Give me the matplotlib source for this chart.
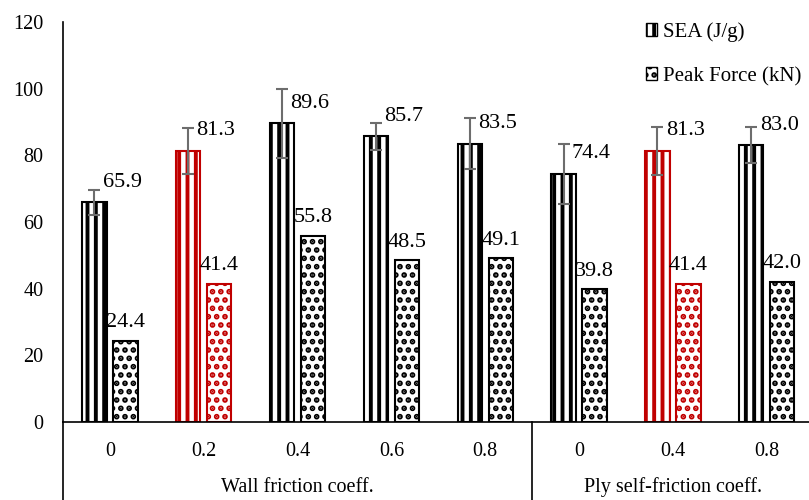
import matplotlib
matplotlib.use("Agg")
import matplotlib.pyplot as plt
import matplotlib.transforms as mtransforms
from matplotlib.patches import Patch
import numpy as np

plt.rcParams['font.family'] = ['Liberation Serif', 'DejaVu Serif']
plt.rcParams['hatch.linewidth'] = 2.8

# data
tick_labels = ["0", "0.2", "0.4", "0.6", "0.8", "0", "0.4", "0.8"]
groups = ["Wall friction coeff.", "Ply self-friction coeff."]
group_spans = [(0, 4), (5, 7)]
sea = [65.9, 81.3, 89.6, 85.7, 83.5, 74.4, 81.3, 83.0]
sea_err = [3.7, 7.0, 10.3, 4.0, 7.6, 8.9, 7.1, 5.4]
peak = [24.4, 41.4, 55.8, 48.5, 49.1, 39.8, 41.4, 42.0]
highlight = [1, 6]

fig = plt.figure(figsize=(8.09, 5.0), dpi=100)
ax = fig.add_axes([63 / 809, 78 / 500, 746 / 809, 400 / 500])

x = np.arange(len(tick_labels))
w = 0.26
off = 0.165
cols = ['#C00000' if i in highlight else 'black' for i in x]

for i in x:
    ax.bar(x[i] - off, sea[i], w, color='white', edgecolor=cols[i], hatch='||', linewidth=1.5)
    ax.bar(x[i] + off, peak[i], w, color='white', edgecolor=cols[i], hatch='..', linewidth=1.5)

ax.errorbar(x - off, sea, yerr=sea_err, fmt='none', ecolor='#6d6d6d', elinewidth=1.5,
            capsize=4, capthick=1.5)

for i in x:
    ax.annotate(f"{sea[i]:.1f}", (x[i] - off, sea[i]), xytext=(20, 14.5), textcoords='offset points',
                ha='center', va='center', fontsize=16)
    ax.annotate(f"{peak[i]:.1f}", (x[i] + off, peak[i]), xytext=(0, 13), textcoords='offset points',
                ha='center', va='center', fontsize=16)

ax.set_xlim(-0.5, 7.45)
ax.set_ylim(0, 120)
ax.set_yticks(range(0, 121, 20))
ax.tick_params(axis='y', length=0, pad=14, labelsize=14.5)
ax.set_xticks([])
ax.spines['top'].set_visible(False)
ax.spines['right'].set_visible(False)
ax.spines['left'].set_linewidth(1.2)
ax.spines['bottom'].set_linewidth(1.2)

# category axis
trans = mtransforms.blended_transform_factory(ax.transData, ax.transAxes)
for i, lab in enumerate(tick_labels):
    ax.text(i, -0.075, lab, transform=trans, ha='center', va='center', fontsize=14.5)
for g, (a, b) in zip(groups, group_spans):
    ax.text((a + b) / 2, -0.163, g, transform=trans, ha='center', va='center', fontsize=14.5)
for sep in [-0.5, 4.5]:
    ax.plot([sep, sep], [0, -0.2], transform=trans, color='black', lw=1.2, clip_on=False)

handles = [Patch(facecolor='white', edgecolor='black', hatch='||', label='SEA (J/g)'),
           Patch(facecolor='white', edgecolor='black', hatch='..', label='Peak Force (kN)')]
fig.legend(handles=handles, loc='upper left', bbox_to_anchor=(646 / 809, 1 - 22 / 500),
           frameon=False, fontsize=15, handlelength=0.55, handleheight=0.55,
           handletextpad=0.25, labelspacing=1.2, borderpad=0, borderaxespad=0)

fig.savefig("out.png", dpi=100)
